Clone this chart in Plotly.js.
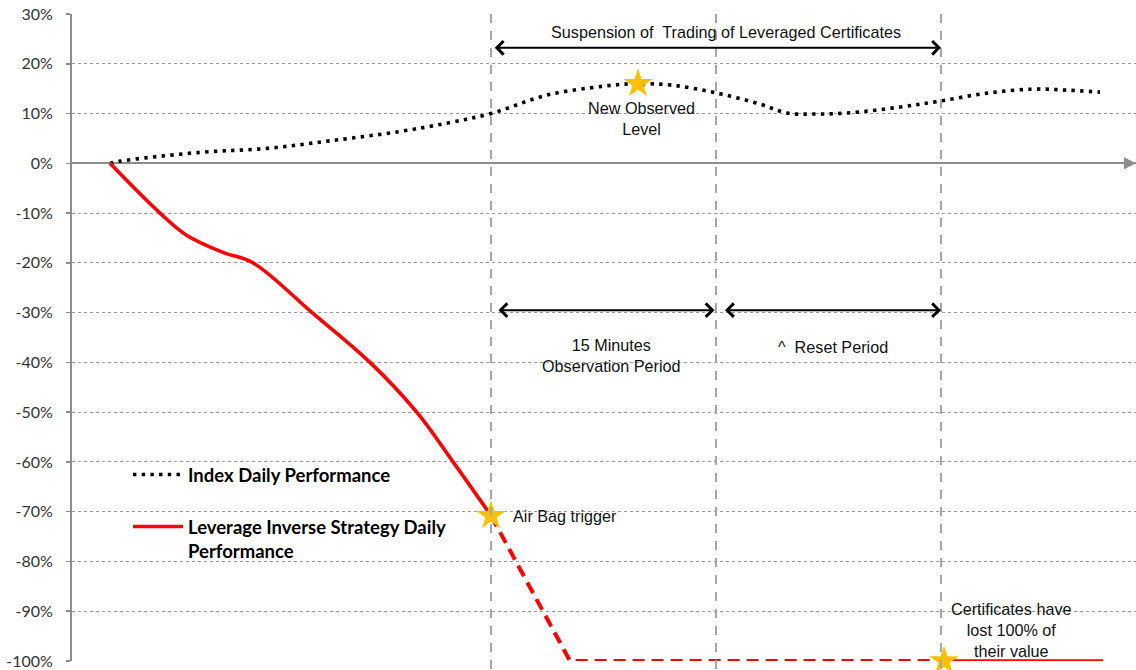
<!DOCTYPE html>
<html>
<head>
<meta charset="utf-8">
<script src="https://cdn.plot.ly/plotly-3.0.1.min.js"></script>
<style>html,body{margin:0;padding:0;background:#fff;}#chart{width:1136px;height:670px;}</style>
</head>
<body>
<div id="chart"></div>
<script>
// time in minutes (arbitrary origin), performance in %
const indexTime = [0, 0.6, 6, 10.47, 14.87, 19.33, 22.67, 25.4, 29.13, 32.93, 35.07, 37.47, 40.47, 43.33, 45.13, 46.87, 49.13, 52.67, 55.33, 58.47, 61.53, 63.8, 66];
const indexPerf = [0, 0.4, 2.2, 3, 4.6, 6.4, 8.2, 10, 13.7, 15.5, 16, 15.7, 14.1, 11.9, 10.1, 9.9, 10.1, 11.3, 12.5, 14.1, 14.9, 14.7, 14.3];

const strategyTime = [0, 3.33, 5.13, 7.53, 9.53, 13.47, 17.33, 20.45, 22.87, 25.4];
const strategyPerf = [0, -10, -14.5, -17.9, -20, -30, -40, -50, -60, -70.8];

const suspendedTime = [25.4, 30.67, 55.6];
const suspendedPerf = [-70.8, -100, -100];

const finalTime = [55.6, 66.2];
const finalPerf = [-100, -100];

const starTime = [25.4, 35.2, 55.6];
const starPerf = [-70.8, 16, -100];

const airbagTime = 25.4, obsEndTime = 40.4, resetEndTime = 55.4;

const tickVals = [30, 20, 10, 0, -10, -20, -30, -40, -50, -60, -70, -80, -90, -100];
const tickText = tickVals.map(v => v + '%');

const legendFont = {family: 'Lato, "Open Sans", sans-serif', size: 18.5, color: '#000'};
const textFont = {family: '"Liberation Sans", Arial, sans-serif', size: 16.2, color: '#111'};

const traces = [
  {x: indexTime, y: indexPerf, type: 'scatter', mode: 'lines', name: '<b>Index Daily Performance</b>',
   line: {color: '#000', width: 3.6, dash: '3.4px,5.3px', shape: 'spline'}, legendgroup: 'a'},
  {x: strategyTime, y: strategyPerf, type: 'scatter', mode: 'lines', name: '<b>Leverage Inverse Strategy Daily<br>Performance</b>',
   line: {color: '#FF0000', width: 3.6, shape: 'spline', smoothing: 1}, legendgroup: 'b'},
  {x: suspendedTime, y: suspendedPerf, type: 'scatter', mode: 'lines', showlegend: false,
   line: {color: '#FF0000', width: 4, dash: '12px,7px'}},
  {x: finalTime, y: finalPerf, type: 'scatter', mode: 'lines', showlegend: false,
   line: {color: '#FF0000', width: 3.6}},
  {x: starTime, y: starPerf, type: 'scatter', mode: 'markers', showlegend: false, cliponaxis: false,
   marker: {symbol: 'star', size: 22, color: '#FFC000', line: {width: 0}}}
];

const vline = (x) => ({type: 'line', xref: 'x', yref: 'paper', x0: x, x1: x, y0: 1, y1: -0.02,
  line: {color: '#A6A6A6', width: 2, dash: '9px,8px'}});

const dblArrow = (x0, x1, y) => ({x: x1, y: y, ax: x0, ay: y, xref: 'x', yref: 'y', axref: 'x', ayref: 'y',
  text: '', showarrow: true, arrowhead: 4, startarrowhead: 4, arrowside: 'end+start', arrowsize: 1.3, startarrowsize: 1.3,
  arrowwidth: 2, arrowcolor: '#000'});

const layout = {
  width: 1136, height: 670,
  margin: {l: 72, r: 0, t: 14, b: 9},
  paper_bgcolor: '#fff', plot_bgcolor: '#fff',
  xaxis: {range: [-2.533, 68.4], showgrid: false, zeroline: false, showticklabels: false, showline: false, ticks: ''},
  yaxis: {range: [-100, 30], tickvals: tickVals, ticktext: tickText, showgrid: true, gridcolor: '#9a9a9a', gridwidth: 1, griddash: 'dot',
    zeroline: true, zerolinecolor: '#8c8c8c', zerolinewidth: 2,
    showline: true, linecolor: '#8c8c8c', linewidth: 2, ticks: 'outside', ticklen: 4, tickcolor: '#8c8c8c', tickwidth: 1.5,
    tickfont: {family: 'Lato, "Open Sans", sans-serif', size: 16, color: '#333'}, ticklabelstandoff: 10},
  showlegend: true,
  legend: {x: (128 - 72) / 1064, y: (670 - 9 - 456) / 647, xanchor: 'left', yanchor: 'top', bgcolor: 'rgba(0,0,0,0)',
    font: legendFont, traceorder: 'grouped', tracegroupgap: 25, valign: 'top', itemwidth: 50},
  shapes: [vline(airbagTime), vline(obsEndTime), vline(resetEndTime)],
  annotations: [
    dblArrow(airbagTime + 0.15, resetEndTime, 23.2),
    dblArrow(airbagTime + 0.4, obsEndTime - 0.1, -29.5),
    dblArrow(obsEndTime + 0.5, resetEndTime, -29.5),
    {x: 68.4, y: 0, ax: -16, ay: 0, xref: 'x', yref: 'y', text: '', showarrow: true, arrowhead: 2, arrowsize: 1.2, arrowwidth: 2, arrowcolor: '#8c8c8c'},
    {x: 41.07, y: 26.3, xref: 'x', yref: 'y', text: 'Suspension of  Trading of Leveraged Certificates', showarrow: false, font: textFont},
    {x: 35.4, y: 9.1, xref: 'x', yref: 'y', text: 'New Observed<br>Level', showarrow: false, font: textFont},
    {x: 33.4, y: -38.7, xref: 'x', yref: 'y', text: '15 Minutes<br>Observation Period', showarrow: false, font: textFont},
    {x: 48.2, y: -37, xref: 'x', yref: 'y', text: '^  Reset Period', showarrow: false, font: textFont},
    {x: 26.7, y: -70.9, xref: 'x', yref: 'y', text: 'Air Bag trigger', showarrow: false, xanchor: 'left', font: textFont},
    {x: 60.1, y: -93.8, xref: 'x', yref: 'y', text: 'Certificates have<br>lost 100% of<br>their value', showarrow: false, font: textFont}
  ]
};

Plotly.newPlot('chart', traces, layout, {displayModeBar: false, staticPlot: true});
</script>
</body>
</html>
